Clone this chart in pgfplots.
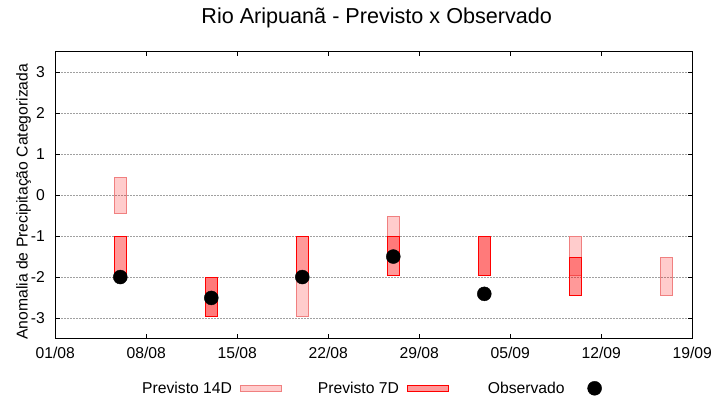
\documentclass[border=0pt]{standalone}
\usepackage{fontspec}
\setmainfont{Liberation Sans}
\usepackage{pgfplots}
\pgfplotsset{compat=1.18}
\newcommand\fs{\fontsize{15.7}{18}\selectfont}
\newcommand\ft{\fontsize{21.6}{25}\selectfont}
\definecolor{edgeA}{RGB}{240,128,128}
\definecolor{gridc}{RGB}{160,160,160}
\pgfplotsset{
  boxleg/.style={legend image code/.code={\draw[##1] (0pt,-3pt) rectangle (41pt,3pt);}},
  dotleg/.style={legend image code/.code={\path[draw=none, fill=none] (0pt,0pt) -- (44pt,0pt); \fill[black] (22pt,0pt) circle (7pt);}},
  p14/.style={draw=edgeA, fill=red, fill opacity=0.2, line width=0.8pt},
  p7/.style={draw=red, fill=red, fill opacity=0.4, line width=0.8pt},
}
\begin{document}
\begin{tikzpicture}
\useasboundingbox (0,0) rectangle (720pt,400pt);
\begin{axis}[
  at={(55.3pt,61.5pt)}, anchor=south west,
  scale only axis, width=637pt, height=286.8pt,
  xmin=0, xmax=49, ymin=-3.5, ymax=3.5,
  xtick={0,7,14,21,28,35,42,49},
  xticklabels={01/08,08/08,15/08,22/08,29/08,05/09,12/09,19/09},
  ytick={-3,-2,-1,0,1,2,3},
  yticklabels={-3,-2,-1,0,1,2,3},
  tick align=inside, major tick length=4.5pt,
  tick style={black, line width=0.8pt},
  axis line style={black, line width=0.9pt},
  ymajorgrids, xmajorgrids=false,
  major grid style={gridc, line width=0.9pt, dash pattern=on 1.5pt off 1.5pt},
  ticklabel style={font=\fs},
  xticklabel style={anchor=base, inner sep=0pt, yshift=-19.8pt},
  yticklabel style={anchor=east, inner sep=0pt, xshift=-10.3pt},
  ylabel={Anomalia de Precipitação Categorizada},
  every axis y label/.style={font=\fs, at={(axis description cs:-0.0433,0.477)}, anchor=base, rotate=90, inner sep=0pt},
  title={Rio Aripuanã - Previsto x Observado},
  title style={font=\ft, at={(axis description cs:0.5,1)}, anchor=base, inner sep=0pt, yshift=21.7pt, xshift=2.9pt},
  legend columns=3,
  legend plot pos=right,
  legend style={at={(0.1361,-0.1736)}, anchor=west, draw=none, fill=none, inner sep=0pt, font=\fs,
    nodes={inner sep=0pt, text depth=0pt},
    cells={anchor=center},
    /tikz/column 1/.style={column sep=8pt},
    /tikz/column 2/.style={column sep=36pt},
    /tikz/column 3/.style={column sep=8pt},
    /tikz/column 4/.style={column sep=39pt},
    /tikz/column 5/.style={column sep=8pt},
  },
  clip=false,
]
% Previsto 14D
\addplot[p14, boxleg]
  coordinates {(4.53,-0.44) (5.47,-0.44) (5.47,0.44) (4.53,0.44)} -- cycle;
\addlegendentry{Previsto 14D}
\addplot[forget plot, p14]
  coordinates {(11.53,-2.95) (12.47,-2.95) (12.47,-2) (11.53,-2)} -- cycle;
\addplot[forget plot, p14]
  coordinates {(18.53,-2.95) (19.47,-2.95) (19.47,-2) (18.53,-2)} -- cycle;
\addplot[forget plot, p14]
  coordinates {(25.53,-1.5) (26.47,-1.5) (26.47,-0.51) (25.53,-0.51)} -- cycle;
\addplot[forget plot, p14]
  coordinates {(32.53,-1.95) (33.47,-1.95) (33.47,-1) (32.53,-1)} -- cycle;
\addplot[forget plot, p14]
  coordinates {(39.53,-1.95) (40.47,-1.95) (40.47,-1) (39.53,-1)} -- cycle;
\addplot[forget plot, p14]
  coordinates {(46.53,-2.44) (47.47,-2.44) (47.47,-1.51) (46.53,-1.51)} -- cycle;
% Previsto 7D
\addplot[p7, boxleg]
  coordinates {(4.53,-2) (5.47,-2) (5.47,-1) (4.53,-1)} -- cycle;
\addlegendentry{Previsto 7D}
\addplot[forget plot, p7]
  coordinates {(11.53,-2.95) (12.47,-2.95) (12.47,-2) (11.53,-2)} -- cycle;
\addplot[forget plot, p7]
  coordinates {(18.53,-2) (19.47,-2) (19.47,-1) (18.53,-1)} -- cycle;
\addplot[forget plot, p7]
  coordinates {(25.53,-1.95) (26.47,-1.95) (26.47,-1) (25.53,-1)} -- cycle;
\addplot[forget plot, p7]
  coordinates {(32.53,-1.95) (33.47,-1.95) (33.47,-1) (32.53,-1)} -- cycle;
\addplot[forget plot, p7]
  coordinates {(39.53,-2.44) (40.47,-2.44) (40.47,-1.51) (39.53,-1.51)} -- cycle;
% Observado
\addplot[only marks, mark=*, mark size=7pt, black, mark options={fill=black, draw=black}, dotleg]
  coordinates {(5,-2) (12,-2.51) (19,-2) (26,-1.5) (33,-2.41)};
\addlegendentry{Observado}
\end{axis}
\end{tikzpicture}
\end{document}
